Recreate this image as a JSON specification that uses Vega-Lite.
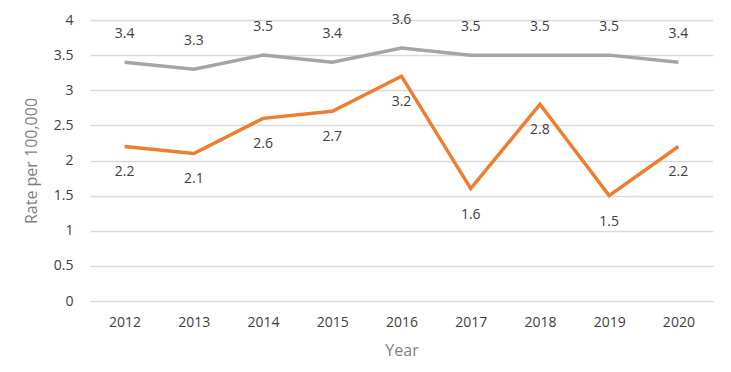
{
  "$schema": "https://vega.github.io/schema/vega-lite/v6.json",
  "width": 623,
  "height": 281,
  "autosize": "none",
  "padding": {"left": 90, "top": 20, "right": 18, "bottom": 71},
  "background": "white",
  "config": {
    "view": {"stroke": null},
    "font": "Open Sans",
    "axis": {"labelFont": "Open Sans", "titleFont": "Open Sans"}
  },
  "data": {
    "values": [
      {"year": "2012", "series": "A", "rate": 3.4},
      {"year": "2013", "series": "A", "rate": 3.3},
      {"year": "2014", "series": "A", "rate": 3.5},
      {"year": "2015", "series": "A", "rate": 3.4},
      {"year": "2016", "series": "A", "rate": 3.6},
      {"year": "2017", "series": "A", "rate": 3.5},
      {"year": "2018", "series": "A", "rate": 3.5},
      {"year": "2019", "series": "A", "rate": 3.5},
      {"year": "2020", "series": "A", "rate": 3.4},
      {"year": "2012", "series": "B", "rate": 2.2},
      {"year": "2013", "series": "B", "rate": 2.1},
      {"year": "2014", "series": "B", "rate": 2.6},
      {"year": "2015", "series": "B", "rate": 2.7},
      {"year": "2016", "series": "B", "rate": 3.2},
      {"year": "2017", "series": "B", "rate": 1.6},
      {"year": "2018", "series": "B", "rate": 2.8},
      {"year": "2019", "series": "B", "rate": 1.5},
      {"year": "2020", "series": "B", "rate": 2.2}
    ]
  },
  "encoding": {
    "x": {
      "field": "year", "type": "ordinal",
      "scale": {"type": "point", "padding": 0.5},
      "axis": {
        "title": "Year", "labelAngle": 0, "labelFontSize": 14, "labelColor": "#404040",
        "labelPadding": 14, "ticks": false, "domain": false, "grid": false,
        "titleFontSize": 16, "titleColor": "#7f7f7f", "titleFontWeight": "normal", "titlePadding": 13
      }
    },
    "y": {
      "field": "rate", "type": "quantitative",
      "scale": {"domain": [0, 4], "nice": false, "zero": true},
      "axis": {
        "title": "Rate per 100,000", "values": [0, 0.5, 1, 1.5, 2, 2.5, 3, 3.5, 4], "format": "~g",
        "labelFontSize": 14, "labelColor": "#404040", "labelPadding": 17,
        "ticks": false, "domain": false, "gridColor": "#D9D9D9", "gridWidth": 1.5,
        "titleFontSize": 16, "titleColor": "#7f7f7f", "titleFontWeight": "normal", "titlePadding": 14
      }
    },
    "color": {
      "field": "series", "type": "nominal",
      "scale": {"domain": ["A", "B"], "range": ["#A5A5A5", "#ED7D31"]},
      "legend": null
    }
  },
  "layer": [
    {"mark": {"type": "line", "strokeWidth": 3.5, "strokeJoin": "miter"}},
    {
      "transform": [{"filter": "datum.series === 'A'"}],
      "mark": {"type": "text", "dy": -28, "fontSize": 14},
      "encoding": {"text": {"field": "rate", "type": "quantitative", "format": ".1f"}, "color": {"value": "#404040"}}
    },
    {
      "transform": [{"filter": "datum.series === 'B'"}],
      "mark": {"type": "text", "dy": 26, "fontSize": 14},
      "encoding": {"text": {"field": "rate", "type": "quantitative", "format": ".1f"}, "color": {"value": "#404040"}}
    }
  ]
}
